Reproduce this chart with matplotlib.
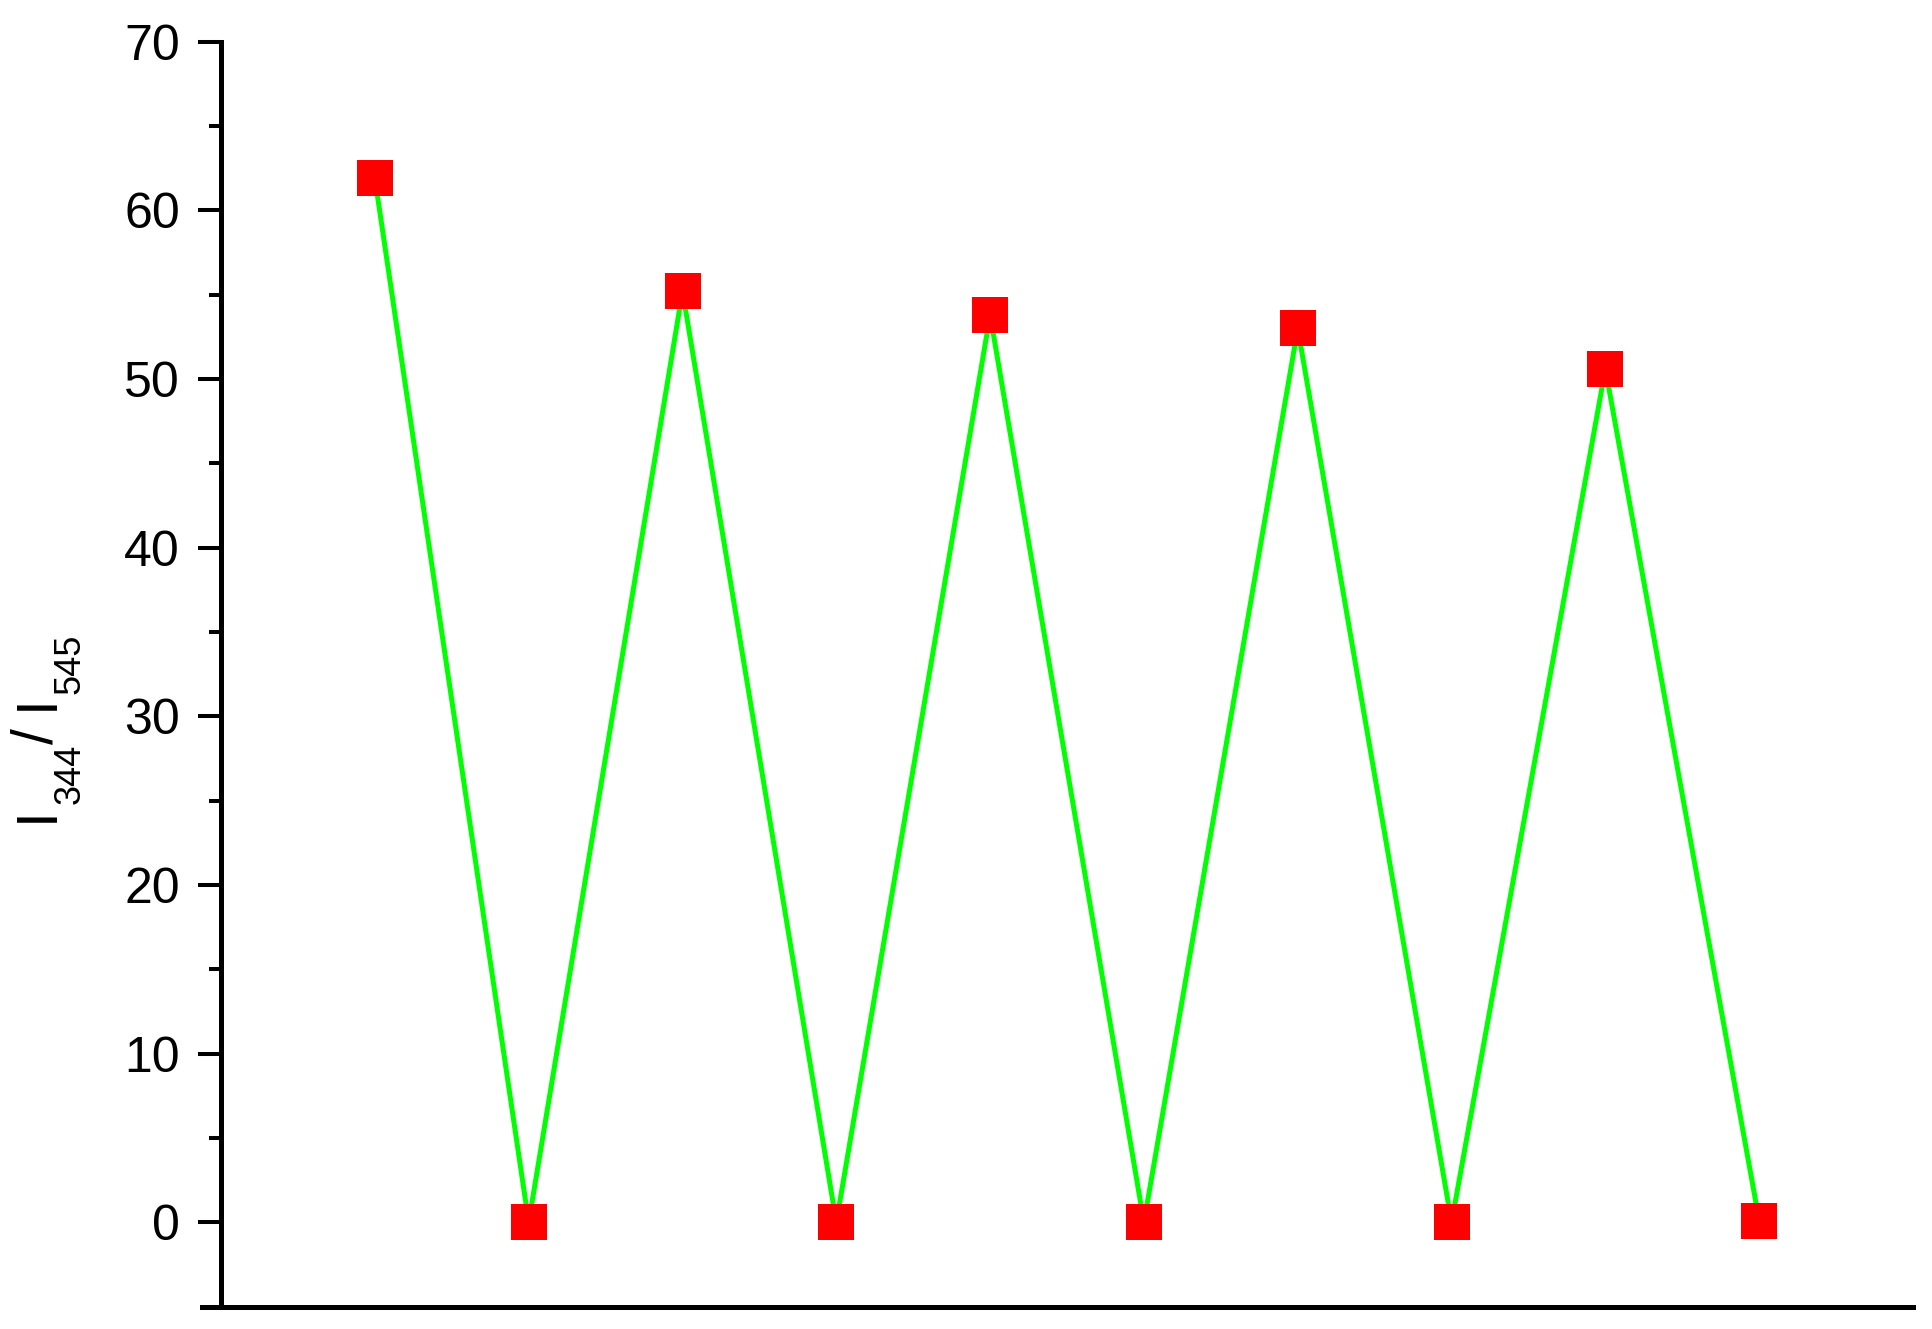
import matplotlib
matplotlib.use("Agg")
import matplotlib.pyplot as plt
from matplotlib.ticker import MultipleLocator, NullLocator

cycle = [1, 2, 3, 4, 5, 6, 7, 8, 9, 10]
ratio = [61.9, 0.0, 55.2, 0.0, 53.8, 0.0, 53.0, 0.0, 50.6, 0.1]
yticks = [0, 10, 20, 30, 40, 50, 60, 70]
ylabel_parts = ["I", "344", "/", "I", "545"]

plt.rcParams['font.family'] = ['Liberation Sans', 'DejaVu Sans']

W, H = 1933, 1329
fig = plt.figure(figsize=(W / 100, H / 100), dpi=100)
ax = fig.add_axes([202 / W, 1 - 1306.7 / H, (1913 - 202) / W, (1306.7 - 41.7) / H])

ax.plot(cycle, ratio, color='#00ff00', lw=3.6, zorder=2)
ax.plot(cycle, ratio, ls='none', marker='s', ms=26.5, mfc='#ff0000', mec='#ff0000',
        mew=0, zorder=3)

ax.set_xlim(-0.124, 11)
ax.set_ylim(-5, 70)
ax.set_yticks(yticks)
ax.yaxis.set_minor_locator(MultipleLocator(5))
ax.xaxis.set_major_locator(NullLocator())

for s in ['top', 'right']:
    ax.spines[s].set_visible(False)
ax.spines['left'].set_position(('data', 0))
for s in ['left', 'bottom']:
    ax.spines[s].set_linewidth(3.6)
    ax.spines[s].set_color('black')

ax.tick_params(axis='y', which='major', direction='out', length=16.5, width=2.9,
               labelsize=36, pad=13)
ax.tick_params(axis='y', which='minor', direction='out', length=8.6, width=2.9)

# y label built from pieces (rotated 90 deg): (anchor x px, anchor y px, size pt)
label_layout = [(53, 822, 41), (80, 804, 26), (53, 744, 41), (53, 710, 41), (80, 694, 26)]
for txt, (px, py, sz) in zip(ylabel_parts, label_layout):
    fig.text(px / W, 1 - py / H, txt, rotation=90, rotation_mode='anchor',
             ha='left', va='baseline', fontsize=sz)

fig.savefig('out.png', dpi=100, facecolor='white')
